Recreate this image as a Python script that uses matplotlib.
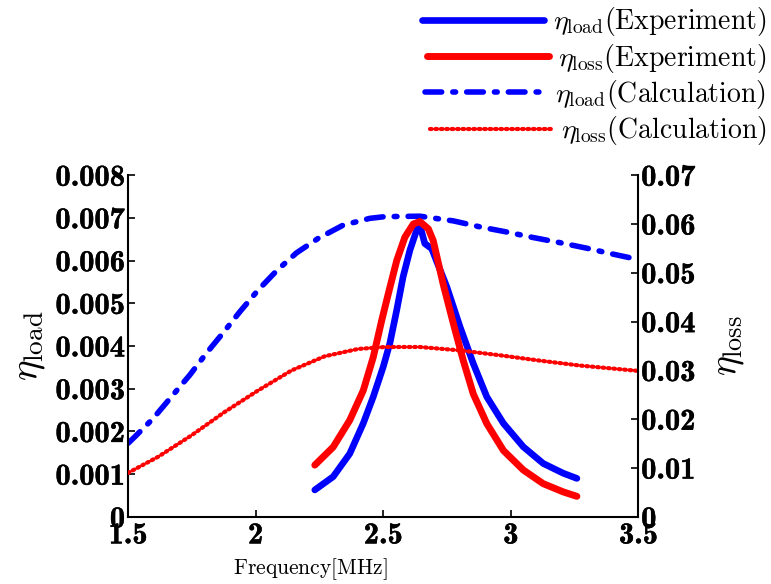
import matplotlib
matplotlib.use("Agg")
import matplotlib.pyplot as plt
import matplotlib.patheffects as pe

plt.rcParams['mathtext.fontset'] = 'cm'
plt.rcParams['font.family'] = 'DejaVu Serif'
plt.rcParams['axes.unicode_minus'] = False

# calculation, eta_load (left axis)
calc_load_f = [1.50, 1.526, 1.598, 1.670, 1.742, 1.807, 1.873, 1.938, 2.010, 2.082,
               2.160, 2.245, 2.343, 2.448, 2.507, 2.644, 2.775, 2.879, 2.984, 3.088,
               3.193, 3.298, 3.402, 3.48]
calc_load = [0.00172, 0.00187, 0.00230, 0.00281, 0.00332, 0.00383, 0.00431, 0.00480,
             0.00531, 0.00576, 0.00618, 0.00652, 0.00683, 0.00699, 0.00703, 0.00704,
             0.00693, 0.00679, 0.00667, 0.00654, 0.00642, 0.00629, 0.00615, 0.00605]

# calculation, eta_loss (right axis)
calc_loss_f = [1.50, 1.618, 1.749, 1.879, 2.010, 2.141, 2.271, 2.402, 2.507, 2.644,
               2.801, 2.958, 3.115, 3.271, 3.50]
calc_loss = [0.0090, 0.0123, 0.0167, 0.0215, 0.0259, 0.0300, 0.0329, 0.0344, 0.0348,
             0.0348, 0.0341, 0.0331, 0.0320, 0.0310, 0.0299]

# experiment, eta_load (left axis)
exp_load_f = [2.232, 2.304, 2.369, 2.422, 2.461, 2.500, 2.526, 2.553, 2.578, 2.605,
              2.631, 2.644, 2.663, 2.690, 2.749, 2.801, 2.853, 2.906, 2.971, 3.049,
              3.127, 3.206, 3.259]
exp_load = [0.00063, 0.00094, 0.00148, 0.00219, 0.00281, 0.00351, 0.00406, 0.00484,
            0.00562, 0.00625, 0.00671, 0.00683, 0.00640, 0.00628, 0.00539, 0.00445,
            0.00359, 0.00281, 0.00219, 0.00164, 0.00125, 0.00102, 0.00090]

# experiment, eta_loss (right axis)
exp_loss_f = [2.232, 2.304, 2.369, 2.422, 2.461, 2.494, 2.520, 2.553, 2.585, 2.618,
              2.644, 2.677, 2.696, 2.735, 2.775, 2.814, 2.853, 2.906, 2.971, 3.049,
              3.127, 3.206, 3.259]
exp_loss = [0.0106, 0.0143, 0.0198, 0.0259, 0.0327, 0.0402, 0.0457, 0.0525, 0.0573,
            0.0600, 0.0605, 0.0590, 0.0566, 0.0477, 0.0396, 0.0320, 0.0252, 0.0191,
            0.0136, 0.0096, 0.0068, 0.0051, 0.0042]

xticks = [1.5, 2, 2.5, 3, 3.5]
xtick_labels = ['1.5', '2', '2.5', '3', '3.5']
left_ticks = [0, 0.001, 0.002, 0.003, 0.004, 0.005, 0.006, 0.007, 0.008]
left_labels = ['0', '0.001', '0.002', '0.003', '0.004', '0.005', '0.006', '0.007', '0.008']
right_ticks = [0, 0.01, 0.02, 0.03, 0.04, 0.05, 0.06, 0.07]
right_labels = ['0', '0.01', '0.02', '0.03', '0.04', '0.05', '0.06', '0.07']

fig = plt.figure(figsize=(7.71, 5.84), dpi=100)
ax = fig.add_axes([0.166, 0.115, 0.662, 0.585])
ax2 = ax.twinx()

l1, = ax.plot(exp_load_f, exp_load, color='#0000ff', lw=4.8,
              solid_capstyle='round', solid_joinstyle='round')
l3, = ax.plot(calc_load_f, calc_load, color='#0000ff', lw=4, ls=(0, (3, 2, 0.5, 2)),
              dash_capstyle='round')
l2, = ax2.plot(exp_loss_f, exp_loss, color='#ff0000', lw=5,
               solid_capstyle='round', solid_joinstyle='round')
l4, = ax2.plot(calc_loss_f, calc_loss, color='#ff0000', lw=3, ls=(0, (0.4, 0.9)),
               dash_capstyle='round')

ax.set_xlim(1.5, 3.5)
ax.set_ylim(0, 0.008)
ax2.set_ylim(0, 0.07)

tick_font = dict(fontfamily='cmb10', fontsize=22,
                 path_effects=[pe.withStroke(linewidth=0.3, foreground='black')])
ax.set_xticks(xticks)
ax.set_xticklabels(xtick_labels, **tick_font)
ax.set_yticks(left_ticks)
ax.set_yticklabels(left_labels, **tick_font)
ax2.set_yticks(right_ticks)
ax2.set_yticklabels(right_labels, **tick_font)

for a in (ax, ax2):
    a.tick_params(direction='in', length=5, width=1.2, pad=2)
    for s in a.spines.values():
        s.set_linewidth(1.5)
ax.tick_params(axis='x', pad=4)
ax.spines['top'].set_visible(False)
ax.spines['right'].set_visible(False)
ax2.spines['top'].set_visible(False)
ax2.spines['left'].set_visible(False)
ax2.spines['bottom'].set_visible(False)

ax.set_xlabel(r'$\mathrm{Frequency[MHz]}$', fontsize=15.5)
ax.xaxis.set_label_coords(0.358, -0.115)
ax.set_ylabel(r'$\eta_{\mathrm{load}}$', fontsize=28, labelpad=6)
ax2.set_ylabel(r'$\eta_{\mathrm{loss}}$', fontsize=27, labelpad=10)

leg = fig.legend([l1, l2, l3, l4],
                 [r'$\eta_{\mathrm{load}}\mathrm{(Experiment)}$',
                  r'$\eta_{\mathrm{loss}}\mathrm{(Experiment)}$',
                  r'$\eta_{\mathrm{load}}\mathrm{(Calculation)}$',
                  r'$\eta_{\mathrm{loss}}\mathrm{(Calculation)}$'],
                 loc='upper right', bbox_to_anchor=(1.01, 1.012), frameon=False,
                 fontsize=20, handlelength=4.4, labelspacing=0.12, handletextpad=0.3,
                 borderaxespad=0.05)
# right-align the entries
for col in leg._legend_handle_box.get_children():
    col.align = 'right'

fig.savefig('out.png', dpi=100)
